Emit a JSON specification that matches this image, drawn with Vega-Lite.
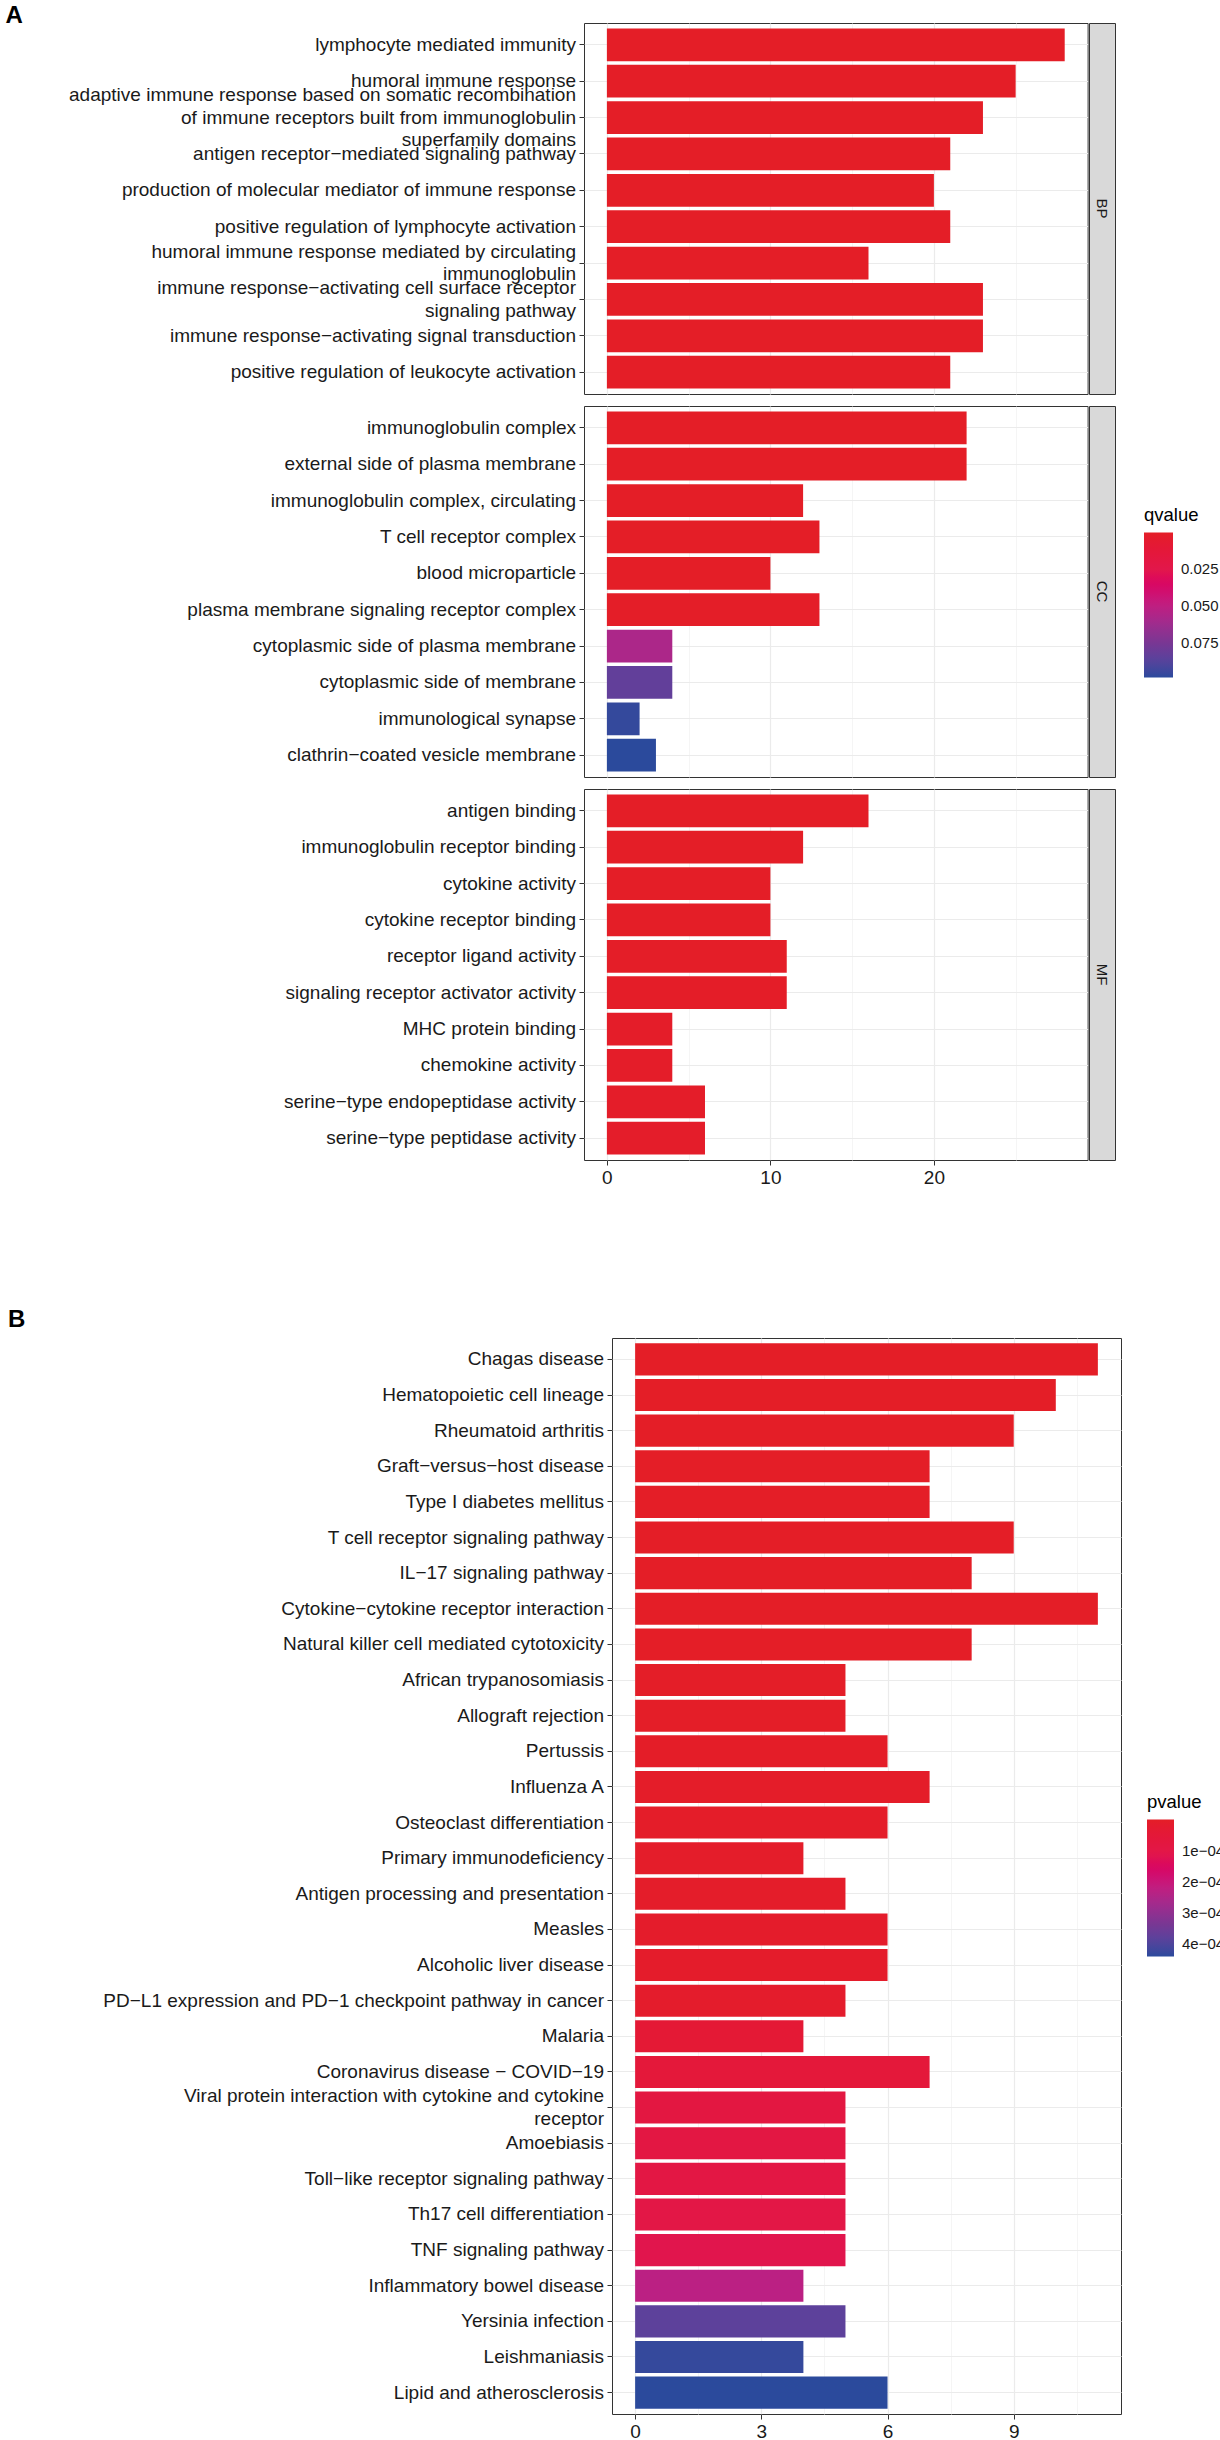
{
  "$schema": "https://vega.github.io/schema/vega-lite/v6.json",
  "padding": {"left": 5, "top": 3, "right": 5, "bottom": 5},
  "datasets": {
    "go": [
      {"ont": "BP", "term": "lymphocyte mediated immunity", "count": 28, "qvalue": 2e-14},
      {"ont": "BP", "term": "humoral immune response", "count": 25, "qvalue": 5e-13},
      {"ont": "BP", "term": "adaptive immune response based on somatic recombination|of immune receptors built from immunoglobulin|superfamily domains", "count": 23, "qvalue": 1e-12},
      {"ont": "BP", "term": "antigen receptor−mediated signaling pathway", "count": 21, "qvalue": 3e-11},
      {"ont": "BP", "term": "production of molecular mediator of immune response", "count": 20, "qvalue": 4e-11},
      {"ont": "BP", "term": "positive regulation of lymphocyte activation", "count": 21, "qvalue": 6e-11},
      {"ont": "BP", "term": "humoral immune response mediated by circulating|immunoglobulin", "count": 16, "qvalue": 2e-10},
      {"ont": "BP", "term": "immune response−activating cell surface receptor|signaling pathway", "count": 23, "qvalue": 3e-10},
      {"ont": "BP", "term": "immune response−activating signal transduction", "count": 23, "qvalue": 4e-10},
      {"ont": "BP", "term": "positive regulation of leukocyte activation", "count": 21, "qvalue": 5e-10},
      {"ont": "CC", "term": "immunoglobulin complex", "count": 22, "qvalue": 1e-12},
      {"ont": "CC", "term": "external side of plasma membrane", "count": 22, "qvalue": 2e-11},
      {"ont": "CC", "term": "immunoglobulin complex, circulating", "count": 12, "qvalue": 3e-9},
      {"ont": "CC", "term": "T cell receptor complex", "count": 13, "qvalue": 1e-8},
      {"ont": "CC", "term": "blood microparticle", "count": 10, "qvalue": 2e-5},
      {"ont": "CC", "term": "plasma membrane signaling receptor complex", "count": 13, "qvalue": 4e-4},
      {"ont": "CC", "term": "cytoplasmic side of plasma membrane", "count": 4, "qvalue": 0.057},
      {"ont": "CC", "term": "cytoplasmic side of membrane", "count": 4, "qvalue": 0.083},
      {"ont": "CC", "term": "immunological synapse", "count": 2, "qvalue": 0.096},
      {"ont": "CC", "term": "clathrin−coated vesicle membrane", "count": 3, "qvalue": 0.098},
      {"ont": "MF", "term": "antigen binding", "count": 16, "qvalue": 1e-10},
      {"ont": "MF", "term": "immunoglobulin receptor binding", "count": 12, "qvalue": 2e-10},
      {"ont": "MF", "term": "cytokine activity", "count": 10, "qvalue": 5e-5},
      {"ont": "MF", "term": "cytokine receptor binding", "count": 10, "qvalue": 1e-4},
      {"ont": "MF", "term": "receptor ligand activity", "count": 11, "qvalue": 6e-4},
      {"ont": "MF", "term": "signaling receptor activator activity", "count": 11, "qvalue": 8e-4},
      {"ont": "MF", "term": "MHC protein binding", "count": 4, "qvalue": 0.001},
      {"ont": "MF", "term": "chemokine activity", "count": 4, "qvalue": 0.0012},
      {"ont": "MF", "term": "serine−type endopeptidase activity", "count": 6, "qvalue": 0.0015},
      {"ont": "MF", "term": "serine−type peptidase activity", "count": 6, "qvalue": 0.0018}
    ],
    "kegg": [
      {"term": "Chagas disease", "count": 11, "pvalue": 1.2e-9},
      {"term": "Hematopoietic cell lineage", "count": 10, "pvalue": 3e-9},
      {"term": "Rheumatoid arthritis", "count": 9, "pvalue": 2e-8},
      {"term": "Graft−versus−host disease", "count": 7, "pvalue": 4e-8},
      {"term": "Type I diabetes mellitus", "count": 7, "pvalue": 6e-8},
      {"term": "T cell receptor signaling pathway", "count": 9, "pvalue": 1e-7},
      {"term": "IL−17 signaling pathway", "count": 8, "pvalue": 4e-7},
      {"term": "Cytokine−cytokine receptor interaction", "count": 11, "pvalue": 5e-7},
      {"term": "Natural killer cell mediated cytotoxicity", "count": 8, "pvalue": 9e-7},
      {"term": "African trypanosomiasis", "count": 5, "pvalue": 2e-6},
      {"term": "Allograft rejection", "count": 5, "pvalue": 3e-6},
      {"term": "Pertussis", "count": 6, "pvalue": 4e-6},
      {"term": "Influenza A", "count": 7, "pvalue": 5e-6},
      {"term": "Osteoclast differentiation", "count": 6, "pvalue": 6e-6},
      {"term": "Primary immunodeficiency", "count": 4, "pvalue": 8e-6},
      {"term": "Antigen processing and presentation", "count": 5, "pvalue": 9e-6},
      {"term": "Measles", "count": 6, "pvalue": 1e-5},
      {"term": "Alcoholic liver disease", "count": 6, "pvalue": 1.1e-5},
      {"term": "PD−L1 expression and PD−1 checkpoint pathway in cancer", "count": 5, "pvalue": 1.5e-5},
      {"term": "Malaria", "count": 4, "pvalue": 4e-5},
      {"term": "Coronavirus disease − COVID−19", "count": 7, "pvalue": 5.5e-5},
      {"term": "Viral protein interaction with cytokine and cytokine|receptor", "count": 5, "pvalue": 8e-5},
      {"term": "Amoebiasis", "count": 5, "pvalue": 8.5e-5},
      {"term": "Toll−like receptor signaling pathway", "count": 5, "pvalue": 9e-5},
      {"term": "Th17 cell differentiation", "count": 5, "pvalue": 9.5e-5},
      {"term": "TNF signaling pathway", "count": 5, "pvalue": 1.15e-4},
      {"term": "Inflammatory bowel disease", "count": 4, "pvalue": 2.3e-4},
      {"term": "Yersinia infection", "count": 5, "pvalue": 3.8e-4},
      {"term": "Leishmaniasis", "count": 4, "pvalue": 4.3e-4},
      {"term": "Lipid and atherosclerosis", "count": 6, "pvalue": 4.4e-4}
    ]
  },
  "vconcat": [
    {
      "title": {"text": "A", "offset": -5},
      "spacing": 10,
      "vconcat": [
        {
          "spacing": -5.5,
          "hconcat": [
            {
              "width": 503.6,
              "height": 371,
              "data": {"name": "go"},
              "transform": [{"filter": "datum.ont === 'BP'"}],
              "mark": {"type": "bar"},
              "encoding": {
                "y": {"field": "term", "type": "nominal", "sort": null,
                  "scale": {"paddingInner": 0.1, "paddingOuter": 0.15},
                  "axis": {"title": null, "labelExpr": "split(datum.label, '|')", "labelLineHeight": 22.5, "labelLimit": 700, "labelFontSize": 19, "labelColor": "#1a1a1a", "tickSize": 5, "tickColor": "#333333", "labelPadding": 3.5, "grid": true, "gridColor": "#EBEBEB", "gridWidth": 1.2, "bandPosition": 0.5, "domain": false, "minExtent": 578, "maxExtent": 578,
                    "labelOffset": {"condition": [{"test": "indexof(datum.value, 'superfamily') >= 0", "value": -22.5}, {"test": "indexof(datum.value, '|') >= 0", "value": -11.25}], "value": 0}}},
                "x": {"field": "count", "type": "quantitative",
                  "scale": {"domain": [-1.4, 29.4], "nice": false},
                  "axis": {"title": null, "values": [0, 5, 10, 15, 20, 25], "labels": false, "ticks": false, "domain": false,
                    "gridColor": {"condition": {"test": "datum.value % 10 === 0", "value": "#EBEBEB"}, "value": "#F3F3F3"},
                    "gridWidth": {"condition": {"test": "datum.value % 10 === 0", "value": 1.2}, "value": 0.8}}},
                "color": {"field": "qvalue", "type": "quantitative",
                  "scale": {"domain": [0.098, 0.0735, 0.049, 0.0245, 0], "range": ["#2B4A9C", "#7C3592", "#C01E80", "#E2184A", "#E41E27"]},
                  "legend": {"title": "qvalue", "orient": "none", "legendX": 560, "legendY": 483, "direction": "vertical", "values": [0.025, 0.05, 0.075], "format": ".3f", "gradientLength": 145, "gradientThickness": 29, "gradientStrokeWidth": 0, "titleFontSize": 18.5, "titleFontWeight": "normal", "titleColor": "#000000", "titlePadding": 8, "labelFontSize": 15, "labelColor": "#1a1a1a", "labelOffset": 8}}
              }
            },
            {
              "width": 26,
              "height": 371,
              "view": {"fill": "#D9D9D9", "stroke": "#333333"},
              "data": {"values": [{"ont": "BP"}]},
              "mark": {"type": "text", "angle": 90, "fontSize": 15, "color": "#1a1a1a", "align": "center", "baseline": "middle"},
              "encoding": {
                "text": {"field": "ont"},
                "x": {"field": "ont", "type": "nominal", "axis": null},
                "y": {"field": "ont", "type": "nominal", "axis": null}
              }
            }
          ]
        },
        {
          "spacing": -5.5,
          "hconcat": [
            {
              "width": 503.6,
              "height": 371,
              "data": {"name": "go"},
              "transform": [{"filter": "datum.ont === 'CC'"}],
              "mark": {"type": "bar"},
              "encoding": {
                "y": {"field": "term", "type": "nominal", "sort": null,
                  "scale": {"paddingInner": 0.1, "paddingOuter": 0.15},
                  "axis": {"title": null, "labelExpr": "split(datum.label, '|')", "labelLineHeight": 22.5, "labelLimit": 700, "labelFontSize": 19, "labelColor": "#1a1a1a", "tickSize": 5, "tickColor": "#333333", "labelPadding": 3.5, "grid": true, "gridColor": "#EBEBEB", "gridWidth": 1.2, "bandPosition": 0.5, "domain": false, "minExtent": 578, "maxExtent": 578}},
                "x": {"field": "count", "type": "quantitative",
                  "scale": {"domain": [-1.4, 29.4], "nice": false},
                  "axis": {"title": null, "values": [0, 5, 10, 15, 20, 25], "labels": false, "ticks": false, "domain": false,
                    "gridColor": {"condition": {"test": "datum.value % 10 === 0", "value": "#EBEBEB"}, "value": "#F3F3F3"},
                    "gridWidth": {"condition": {"test": "datum.value % 10 === 0", "value": 1.2}, "value": 0.8}}},
                "color": {"field": "qvalue", "type": "quantitative"}
              }
            },
            {
              "width": 26,
              "height": 371,
              "view": {"fill": "#D9D9D9", "stroke": "#333333"},
              "data": {"values": [{"ont": "CC"}]},
              "mark": {"type": "text", "angle": 90, "fontSize": 15, "color": "#1a1a1a", "align": "center", "baseline": "middle"},
              "encoding": {
                "text": {"field": "ont"},
                "x": {"field": "ont", "type": "nominal", "axis": null},
                "y": {"field": "ont", "type": "nominal", "axis": null}
              }
            }
          ]
        },
        {
          "spacing": -5.5,
          "hconcat": [
            {
              "width": 503.6,
              "height": 371,
              "data": {"name": "go"},
              "transform": [{"filter": "datum.ont === 'MF'"}],
              "mark": {"type": "bar"},
              "encoding": {
                "y": {"field": "term", "type": "nominal", "sort": null,
                  "scale": {"paddingInner": 0.1, "paddingOuter": 0.15},
                  "axis": {"title": null, "labelExpr": "split(datum.label, '|')", "labelLineHeight": 22.5, "labelLimit": 700, "labelFontSize": 19, "labelColor": "#1a1a1a", "tickSize": 5, "tickColor": "#333333", "labelPadding": 3.5, "grid": true, "gridColor": "#EBEBEB", "gridWidth": 1.2, "bandPosition": 0.5, "domain": false, "minExtent": 578, "maxExtent": 578}},
                "x": {"field": "count", "type": "quantitative",
                  "scale": {"domain": [-1.4, 29.4], "nice": false},
                  "axis": {"title": null, "values": [0, 5, 10, 15, 20, 25], "domain": false, "labelFlush": false, "labelOverlap": false,
                    "labelExpr": "datum.value % 10 === 0 ? datum.label : ''",
                    "labelFontSize": 19, "labelColor": "#1a1a1a", "labelPadding": 3, "tickSize": 5,
                    "tickColor": {"condition": {"test": "datum.value % 10 === 0", "value": "#333333"}, "value": "transparent"},
                    "gridColor": {"condition": {"test": "datum.value % 10 === 0", "value": "#EBEBEB"}, "value": "#F3F3F3"},
                    "gridWidth": {"condition": {"test": "datum.value % 10 === 0", "value": 1.2}, "value": 0.8}}},
                "color": {"field": "qvalue", "type": "quantitative"}
              }
            },
            {
              "width": 26,
              "height": 371,
              "view": {"fill": "#D9D9D9", "stroke": "#333333"},
              "data": {"values": [{"ont": "MF"}]},
              "mark": {"type": "text", "angle": 90, "fontSize": 15, "color": "#1a1a1a", "align": "center", "baseline": "middle"},
              "encoding": {
                "text": {"field": "ont"},
                "x": {"field": "ont", "type": "nominal", "axis": null},
                "y": {"field": "ont", "type": "nominal", "axis": null}
              }
            }
          ]
        }
      ]
    },
    {
      "spacing": -578,
      "resolve": {"scale": {"color": "independent"}, "legend": {"color": "independent"}},
      "hconcat": [
        {
          "width": 1,
          "height": 1,
          "view": {"stroke": null},
          "data": {"values": []},
          "mark": {"type": "point"},
          "encoding": {}
        },
        {
          "title": {"text": "B", "offset": 6},
          "width": 509,
          "height": 1076,
          "data": {"name": "kegg"},
          "mark": {"type": "bar"},
          "encoding": {
            "y": {"field": "term", "type": "nominal", "sort": null,
              "scale": {"paddingInner": 0.1, "paddingOuter": 0.15},
              "axis": {"title": null, "labelExpr": "split(datum.label, '|')", "labelLineHeight": 22.5, "labelLimit": 700, "labelFontSize": 19, "labelColor": "#1a1a1a", "tickSize": 5, "tickColor": "#333333", "labelPadding": 3.5, "grid": true, "gridColor": "#EBEBEB", "gridWidth": 1.2, "bandPosition": 0.5, "domain": false, "minExtent": 604, "maxExtent": 604,
                "labelOffset": {"condition": {"test": "indexof(datum.value, '|') >= 0", "value": -11.25}, "value": 0}}},
            "x": {"field": "count", "type": "quantitative",
              "scale": {"domain": [-0.55, 11.55], "nice": false},
              "axis": {"title": null, "values": [0, 1.5, 3, 4.5, 6, 7.5, 9, 10.5], "domain": false, "labelFlush": false, "labelOverlap": false,
                "labelExpr": "datum.value % 3 === 0 ? datum.label : ''",
                "labelFontSize": 19, "labelColor": "#1a1a1a", "labelPadding": 3, "tickSize": 5,
                "tickColor": {"condition": {"test": "datum.value % 3 === 0", "value": "#333333"}, "value": "transparent"},
                "gridColor": {"condition": {"test": "datum.value % 3 === 0", "value": "#EBEBEB"}, "value": "#F3F3F3"},
                "gridWidth": {"condition": {"test": "datum.value % 3 === 0", "value": 1.2}, "value": 0.8}}},
            "color": {"field": "pvalue", "type": "quantitative",
              "scale": {"domain": [0.00044, 0.00033, 0.00022, 0.00011, 0], "range": ["#2B4A9C", "#7C3592", "#C01E80", "#E2184A", "#E41E27"]},
              "legend": {"title": "pvalue", "orient": "none", "legendX": 535, "legendY": 455, "direction": "vertical", "values": [0.0001, 0.0002, 0.0003, 0.0004], "labelExpr": "format(datum.value * 10000, '.0f') + 'e−04'", "gradientLength": 137, "gradientThickness": 27, "gradientStrokeWidth": 0, "titleFontSize": 18.5, "titleFontWeight": "normal", "titleColor": "#000000", "titlePadding": 8, "labelFontSize": 15, "labelColor": "#1a1a1a", "labelOffset": 8}}
          }
        }
      ]
    }
  ],
  "spacing": 119,
  "resolve": {"scale": {"color": "independent"}, "legend": {"color": "independent"}},
  "config": {
    "font": "Liberation Sans",
    "view": {"stroke": "#333333", "strokeWidth": 1},
    "title": {"fontSize": 24, "fontWeight": "bold", "anchor": "start", "color": "#000000"},
    "legend": {"padding": 0},
    "axis": {"labelFont": "Liberation Sans"}
  }
}
